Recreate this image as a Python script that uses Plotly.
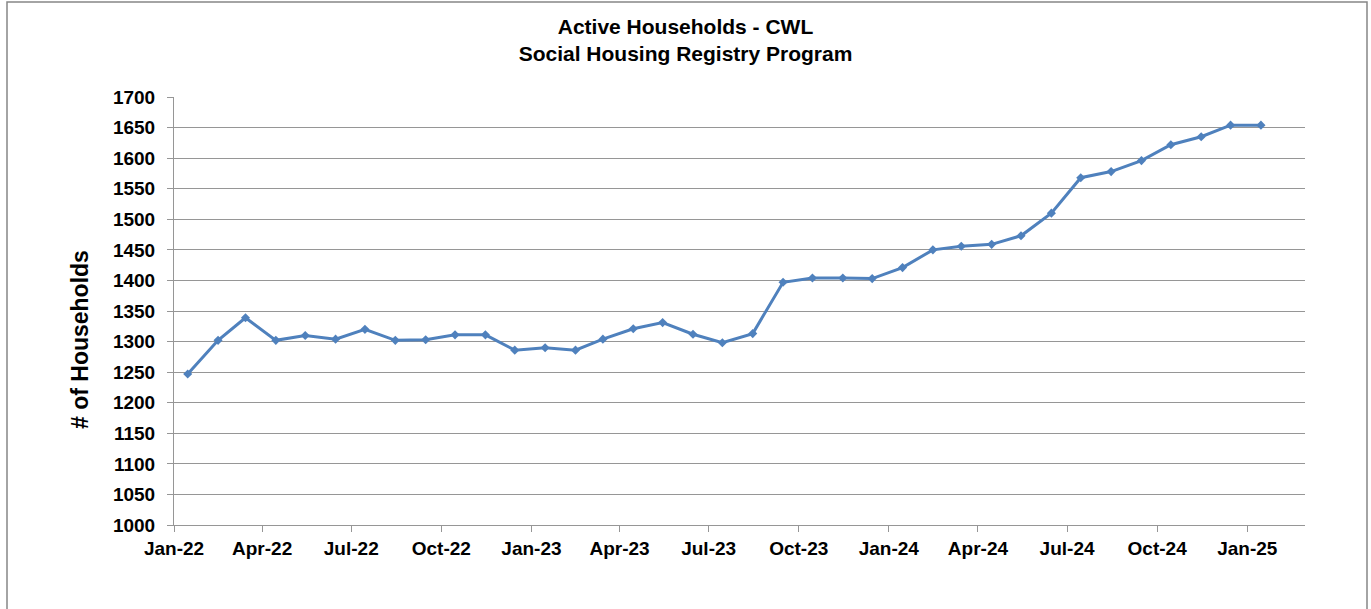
import plotly.graph_objects as go

months = [
    "2022-01-15", "2022-02-15", "2022-03-15", "2022-04-15", "2022-05-15", "2022-06-15",
    "2022-07-15", "2022-08-15", "2022-09-15", "2022-10-15", "2022-11-15", "2022-12-15",
    "2023-01-15", "2023-02-15", "2023-03-15", "2023-04-15", "2023-05-15", "2023-06-15",
    "2023-07-15", "2023-08-15", "2023-09-15", "2023-10-15", "2023-11-15", "2023-12-15",
    "2024-01-15", "2024-02-15", "2024-03-15", "2024-04-15", "2024-05-15", "2024-06-15",
    "2024-07-15", "2024-08-15", "2024-09-15", "2024-10-15", "2024-11-15", "2024-12-15",
    "2025-01-15",
]
households = [
    1247, 1302, 1339, 1302, 1310, 1304,
    1320, 1302, 1303, 1311, 1311, 1286,
    1290, 1286, 1304, 1321, 1331, 1312,
    1298, 1313, 1397, 1404, 1404, 1403,
    1421, 1450, 1456, 1459, 1473, 1510,
    1568, 1578, 1596, 1622, 1635, 1654,
    1654,
]

title_text = "Active Households - CWL<br>Social Housing Registry Program"
y_title = "# of Households"

BLUE = "#4F81BD"
GRID = "#969696"
FONT = "Liberation Sans, Arial, sans-serif"

fig = go.Figure()
fig.add_trace(go.Scatter(
    x=months, y=households, mode="lines+markers",
    line=dict(color=BLUE, width=3),
    marker=dict(symbol="diamond", size=7, color=BLUE),
    hoverinfo="x+y", showlegend=False,
))

W, H = 1371, 609
L, R, T, B = 174, 66, 97, 84
pw, ph = W - L - R, H - T - B

def px_x(p):
    return (p - L) / pw

def px_y(p):
    return (H - B - p) / ph

fig.update_layout(
    width=W, height=H,
    margin=dict(l=L, r=R, t=T, b=B),
    paper_bgcolor="white", plot_bgcolor="white",
    font=dict(family=FONT, color="black"),
    title=dict(
        text="<b>" + title_text.replace("<br>", "</b><br><b>") + "</b>",
        x=0.5, xref="container", xanchor="center",
        y=1 - 34 / H, yref="container", yanchor="top",
        font=dict(size=21, family=FONT, color="black"),
    ),
    xaxis=dict(
        type="date",
        range=["2022-01-01", "2025-03-01"],
        tick0="2022-01-01", dtick="M3", tickformat="%b-%y",
        showgrid=False, zeroline=False,
        showline=True, linecolor=GRID, linewidth=1,
        ticks="outside", ticklen=6, tickcolor=GRID, tickwidth=1,
        tickfont=dict(size=19, family=FONT, color="black", weight="bold"),
        fixedrange=True,
    ),
    yaxis=dict(
        range=[1000, 1700], dtick=50, tick0=1000,
        showgrid=True, gridcolor=GRID, gridwidth=1,
        zeroline=False,
        showline=True, linecolor=GRID, linewidth=1,
        ticks="outside", ticklen=6, tickcolor=GRID, tickwidth=1,
        tickfont=dict(size=19, family=FONT, color="black", weight="bold"),
        ticklabelstandoff=8,
        fixedrange=True,
    ),
    annotations=[dict(
        text="<b>" + y_title + "</b>", textangle=-90,
        xref="paper", yref="paper", x=px_x(80), y=px_y(340),
        xanchor="center", yanchor="middle", showarrow=False,
        font=dict(size=23, family=FONT, color="black"),
    )],
    shapes=[dict(
        type="rect", xref="paper", yref="paper",
        x0=px_x(7), x1=px_x(1367), y0=px_y(620), y1=px_y(2),
        line=dict(color="#868686", width=1.5), fillcolor="rgba(0,0,0,0)",
        layer="below",
    )],
)

fig.write_html(
    "out.html",
    config={"displayModeBar": False},
    post_script="document.body.style.margin='0';document.body.style.overflow='hidden';",
)
